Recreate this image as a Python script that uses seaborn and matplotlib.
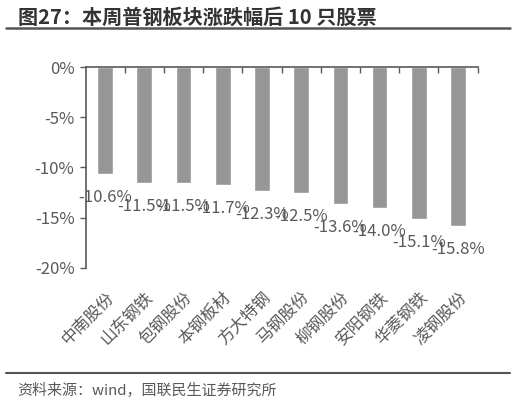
import matplotlib
matplotlib.use("Agg")
import matplotlib.pyplot as plt
from matplotlib.lines import Line2D
from matplotlib.ticker import FixedLocator, FuncFormatter
import seaborn as sns

stocks = ["中南股份", "山东钢铁", "包钢股份", "本钢板材", "方大特钢",
          "马钢股份", "柳钢股份", "安阳钢铁", "华菱钢铁", "凌钢股份"]
change_pct = [-10.6, -11.5, -11.5, -11.7, -12.3, -12.5, -13.6, -14.0, -15.1, -15.8]
y_ticks = [0, -5, -10, -15, -20]

TITLE = "图27：本周普钢板块涨跌幅后 10 只股票"
SOURCE = "资料来源：wind，国联民生证券研究所"

sns.set_theme(style="white")
plt.rcParams["font.family"] = ["Noto Sans CJK SC", "DejaVu Sans"]

TEXT = "#595959"
BAR = "#969696"

fig = plt.figure(figsize=(5.16, 4.01), dpi=100)
ax = fig.add_axes([0.1657, 0.3317, 0.760, 0.5012])

sns.barplot(x=stocks, y=change_pct, color=BAR, saturation=1, width=0.4, ax=ax)

ax.set_ylim(-20, 0)
ax.set_xlim(-0.5, len(stocks) - 0.5)
ax.set_yticks(y_ticks)
ax.yaxis.set_major_formatter(FuncFormatter(lambda v, p: f"{v:.0f}%"))
ax.tick_params(axis="y", direction="out", length=4, width=1, color=TEXT,
               labelsize=12, labelcolor=TEXT, left=True, pad=4)

# category labels sit at the bottom, the axis line is at 0 (top)
ax.tick_params(axis="x", which="major", length=0, pad=15, labelsize=12,
               labelcolor=TEXT)
for lbl in ax.get_xticklabels():
    lbl.set_rotation(45)
    lbl.set_ha("right")
    lbl.set_rotation_mode("anchor")
ax.xaxis.set_minor_locator(FixedLocator([i + 0.5 for i in range(len(stocks))]))
ax.tick_params(axis="x", which="minor", top=True, bottom=False, direction="in",
               length=4, width=1, color=TEXT)

for side in ["right", "bottom"]:
    ax.spines[side].set_visible(False)
for side in ["left", "top"]:
    ax.spines[side].set_color(TEXT)
    ax.spines[side].set_linewidth(1.2)
ax.set_xlabel("")
ax.set_ylabel("")

for i, v in enumerate(change_pct):
    ax.annotate(f"{v:.1f}%", (i, v), xytext=(0, -11), textcoords="offset points",
                ha="center", va="top", fontsize=12, color=TEXT)

fig.text(0.035, 0.958, TITLE, fontsize=14.5, weight="bold", color="#333333",
         va="center", ha="left")
fig.add_artist(Line2D([0.012, 0.988], [0.929, 0.929], color="#555555", lw=1.8))
fig.add_artist(Line2D([0.012, 0.988], [0.0706, 0.0706], color="#555555", lw=1.5))
fig.text(0.033, 0.027, SOURCE, fontsize=10.8, color=TEXT, va="center", ha="left")

fig.savefig("out.png", dpi=100)
